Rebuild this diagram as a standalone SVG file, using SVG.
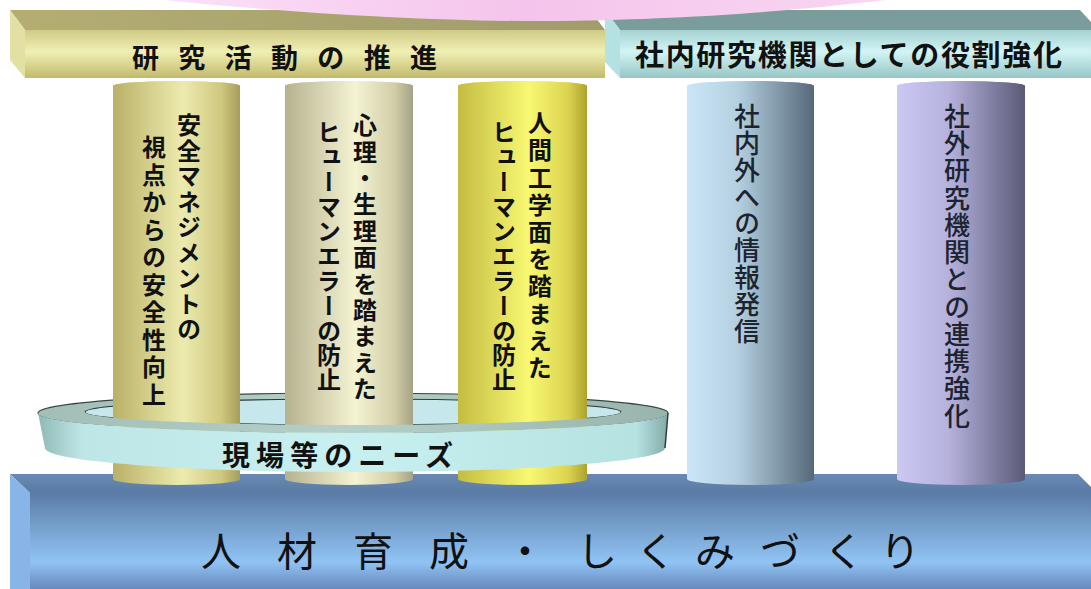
<svg xmlns="http://www.w3.org/2000/svg" width="1091" height="589" viewBox="0 0 1091 589">
  <defs>
    <!-- base slab -->
    <linearGradient id="baseFront" x1="0" y1="0" x2="0" y2="1">
      <stop offset="0" stop-color="#5a7ba6"/>
      <stop offset="0.35" stop-color="#76a0cc"/>
      <stop offset="0.72" stop-color="#90c3f4"/>
      <stop offset="1" stop-color="#6888ba"/>
    </linearGradient>
    <linearGradient id="baseTop" x1="0" y1="0" x2="0" y2="1">
      <stop offset="0" stop-color="#6a8ab2"/>
      <stop offset="1" stop-color="#587aa4"/>
    </linearGradient>
    <!-- beams -->
    <linearGradient id="yellowFront" x1="0" y1="0" x2="0" y2="1">
      <stop offset="0" stop-color="#cfcb86"/>
      <stop offset="0.45" stop-color="#f0efb4"/>
      <stop offset="1" stop-color="#c2ba6c"/>
    </linearGradient>
    <linearGradient id="yellowTop" x1="0" y1="0" x2="1" y2="0">
      <stop offset="0" stop-color="#b4ae72"/>
      <stop offset="1" stop-color="#a09c6c"/>
    </linearGradient>
    <linearGradient id="cyanFront" x1="0" y1="0" x2="0" y2="1">
      <stop offset="0" stop-color="#a6d2d2"/>
      <stop offset="0.45" stop-color="#d2f4f4"/>
      <stop offset="1" stop-color="#98c6c6"/>
    </linearGradient>
    <linearGradient id="pinkFill" x1="0" y1="0" x2="1" y2="0">
      <stop offset="0" stop-color="#fbe0f7"/>
      <stop offset="0.5" stop-color="#f5c4ec"/>
      <stop offset="1" stop-color="#f8d6f2"/>
    </linearGradient>
    <!-- columns -->
    <linearGradient id="col1" x1="0" y1="0" x2="1" y2="0">
      <stop offset="0" stop-color="#bab168"/>
      <stop offset="0.55" stop-color="#ecebae"/>
      <stop offset="0.85" stop-color="#d0c880"/>
      <stop offset="1" stop-color="#a69d5a"/>
    </linearGradient>
    <linearGradient id="col2" x1="0" y1="0" x2="1" y2="0">
      <stop offset="0" stop-color="#b6b290"/>
      <stop offset="0.55" stop-color="#f4f3d2"/>
      <stop offset="0.85" stop-color="#d2cfa8"/>
      <stop offset="1" stop-color="#a6a286"/>
    </linearGradient>
    <linearGradient id="col3" x1="0" y1="0" x2="1" y2="0">
      <stop offset="0" stop-color="#c4bc42"/>
      <stop offset="0.55" stop-color="#f8f872"/>
      <stop offset="0.85" stop-color="#dcd450"/>
      <stop offset="1" stop-color="#aca32e"/>
    </linearGradient>
    <linearGradient id="col4" x1="0" y1="0" x2="1" y2="0">
      <stop offset="0" stop-color="#cae6f8"/>
      <stop offset="0.4" stop-color="#b4d0e0"/>
      <stop offset="1" stop-color="#56697a"/>
    </linearGradient>
    <linearGradient id="col5" x1="0" y1="0" x2="1" y2="0">
      <stop offset="0" stop-color="#ccc8f4"/>
      <stop offset="0.4" stop-color="#b6b2de"/>
      <stop offset="1" stop-color="#5a5a76"/>
    </linearGradient>
    <!-- ring -->
    <linearGradient id="ringBand" x1="0" y1="0" x2="1" y2="0">
      <stop offset="0" stop-color="#8ebab6"/>
      <stop offset="0.07" stop-color="#bfe6e6"/>
      <stop offset="0.5" stop-color="#c8f0f0"/>
      <stop offset="0.95" stop-color="#b6e2e2"/>
      <stop offset="1" stop-color="#82aaa8"/>
    </linearGradient>
    <linearGradient id="ringTop" x1="0" y1="0" x2="1" y2="0">
      <stop offset="0" stop-color="#a2beb6"/>
      <stop offset="0.5" stop-color="#b4d0c8"/>
      <stop offset="1" stop-color="#98b4ac"/>
    </linearGradient>
    <style>
      .cap { opacity: 0.9; }
      .vt { font-family: "Noto Sans CJK JP", "Noto Sans CJK SC", sans-serif; writing-mode: vertical-rl; font-size: 24px; font-weight: bold; fill: #111; }
      .vt2 { font-family: "Noto Sans CJK JP", "Noto Sans CJK SC", sans-serif; writing-mode: vertical-rl; font-size: 26px; font-weight: 500; fill: #1c2430; }
      .hz { font-family: "Noto Sans CJK JP", "Noto Sans CJK SC", sans-serif; fill: #111; }
    </style>
  </defs>

  <rect width="1091" height="589" fill="#ffffff"/>

  <!-- base slab: 人材育成・しくみづくり -->
  <g id="base">
    <polygon points="10,474 1078,474 1091,487 1091,493 30,493" fill="url(#baseTop)"/>
    <polygon points="10,474 30,493 30,589 10,589" fill="#88b4e8"/>
    <rect x="30" y="493" width="1061" height="96" fill="url(#baseFront)"/>
    <text class="hz" font-size="40" y="566" text-anchor="middle" fill="#101820"
          x="221 297 373 449 525 597 656 715 780 844 900">人材育成・しくみづくり</text>
  </g>

  <!-- ring, back half (top surface and hole) -->
  <g id="ring-back">
    <ellipse cx="353" cy="413" rx="315" ry="20" fill="url(#ringTop)" stroke="#3a4444" stroke-width="1.2"/>
    <ellipse cx="353" cy="412" rx="268" ry="13" fill="#c6e8ec" stroke="#2e3c3c" stroke-width="1.2"/>
  </g>

  <!-- columns -->
  <g id="col-safety">
    <path d="M113,86 L113,479 A63.5,6 0 0 0 240,479 L240,86 A63.5,5 0 0 0 113,86 Z" fill="url(#col1)"/>
    <ellipse class="cap" cx="176.5" cy="86" rx="63.5" ry="5" fill="url(#col1)"/>
    <text class="vt" x="189" y="113" letter-spacing="1.5">安全マネジメントの</text>
    <text class="vt" x="154" y="135" letter-spacing="3.5">視点からの安全性向上</text>
  </g>
  <g id="col-psychology">
    <path d="M285,86 L285,479 A64,6 0 0 0 413,479 L413,86 A64,5 0 0 0 285,86 Z" fill="url(#col2)"/>
    <ellipse class="cap" cx="349" cy="86" rx="64" ry="5" fill="url(#col2)"/>
    <text class="vt" x="365" y="113" letter-spacing="2.4">心理・生理面を踏まえた</text>
    <text class="vt" x="329" y="120" letter-spacing="0.8">ヒューマンエラーの防止</text>
  </g>
  <g id="col-ergonomics">
    <path d="M458,86 L458,479 A64.5,6 0 0 0 587,479 L587,86 A64.5,5 0 0 0 458,86 Z" fill="url(#col3)"/>
    <ellipse class="cap" cx="522.5" cy="86" rx="64.5" ry="5" fill="url(#col3)"/>
    <text class="vt" x="540" y="111" letter-spacing="3.2">人間工学面を踏まえた</text>
    <text class="vt" x="504" y="120" letter-spacing="0.8">ヒューマンエラーの防止</text>
  </g>
  <g id="col-information">
    <path d="M687,86 L687,479 A63.5,6 0 0 0 814,479 L814,86 A63.5,5 0 0 0 687,86 Z" fill="url(#col4)"/>
    <ellipse class="cap" cx="750.5" cy="86" rx="63.5" ry="5" fill="url(#col4)"/>
    <text class="vt2" x="747" y="103" letter-spacing="0.9">社内外への情報発信</text>
  </g>
  <g id="col-cooperation">
    <path d="M897,86 L897,479 A64,6 0 0 0 1025,479 L1025,86 A64,5 0 0 0 897,86 Z" fill="url(#col5)"/>
    <ellipse class="cap" cx="961" cy="86" rx="64" ry="5" fill="url(#col5)"/>
    <text class="vt2" x="957" y="103" letter-spacing="1.25">社外研究機関との連携強化</text>
  </g>

  <!-- ring, front half: 現場等のニーズ -->
  <g id="ring">
    <path d="M38,413 A315,20 0 0 0 668,413 L621,412 A268,13 0 0 1 85,412 Z" fill="url(#ringTop)"/>
    <path d="M38,413 L45,448 A310,24 0 0 0 665,448 L668,413 A315,20 0 0 1 38,413 Z" fill="url(#ringBand)"/>
    <path d="M665,448 L668,413" stroke="#2e3c3c" stroke-width="1.5" fill="none"/>
    <text class="hz" font-size="28" font-weight="bold" x="222" y="466" textLength="231" lengthAdjust="spacing">現場等のニーズ</text>
  </g>

  <!-- beam: 研究活動の推進 -->
  <g id="beam-research">
    <polygon points="10,10 590,10 605,30 25,30" fill="url(#yellowTop)"/>
    <polygon points="10,10 25,30 25,78 10,60" fill="#e2e0a2"/>
    <rect x="25" y="30" width="580" height="48" fill="url(#yellowFront)"/>
    <text class="hz" font-size="27" font-weight="bold" x="132" y="68" textLength="305" lengthAdjust="spacing">研 究 活 動 の 推 進</text>
  </g>

  <!-- beam: 社内研究機関としての役割強化 -->
  <g id="beam-role">
    <polygon points="605,10 1080,10 1091,22 1091,30 620,30" fill="#7a9c9a"/>
    <polygon points="605,10 620,30 620,78 605,62" fill="#b4e2e2"/>
    <rect x="620" y="30" width="471" height="48" fill="url(#cyanFront)"/>
    <text class="hz" font-size="29" font-weight="bold" x="635" y="66" textLength="427" lengthAdjust="spacing">社内研究機関としての役割強化</text>
  </g>

  <!-- pink dome along the top edge -->
  <path id="dome" d="M165,0 C300,14 450,22 560,21 C700,19 800,10 885,0 Z" fill="url(#pinkFill)"/>
</svg>
